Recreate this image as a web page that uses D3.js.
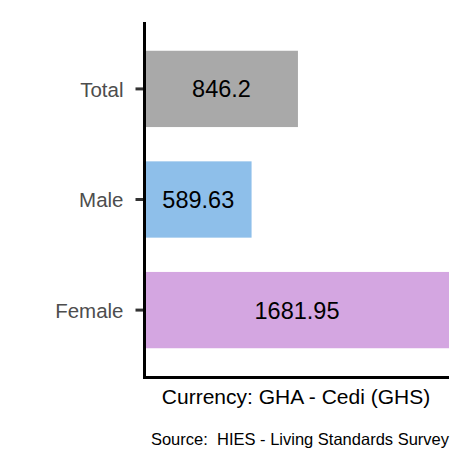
<!DOCTYPE html>
<html>
<head>
<meta charset="utf-8">
<script src="https://cdn.jsdelivr.net/npm/d3@7.9.0/dist/d3.min.js"></script>
<style>
  html, body { margin: 0; padding: 0; background: #fff; }
  svg text { font-family: "Liberation Sans", Arial, sans-serif; white-space: pre; }
</style>
</head>
<body>
<svg id="chart" width="472" height="472"></svg>
<script>
// Data
const groups = ['Total', 'Male', 'Female'];
const values = [846.2, 589.63, 1681.95];
const colors = ['#a9a9a9', '#8ebfea', '#d4a6e1'];
const xTitle = 'Currency: GHA - Cedi (GHS)';
const caption = 'Source:  HIES - Living Standards Survey';

const svg = d3.select('#chart');

// Panel box
const panel = { left: 145, right: 449, top: 22, bottom: 377 };

const x = d3.scaleLinear()
    .domain([0, d3.max(values)])
    .range([panel.left, panel.right]);

const y = d3.scaleBand()
    .domain(groups)
    .range([panel.top, panel.bottom])
    .paddingInner(0.31)
    .paddingOuter(0.26);

const data = groups.map((g, i) => ({ group: g, value: values[i], color: colors[i] }));

// Bars
svg.append('g')
    .selectAll('rect')
    .data(data)
    .join('rect')
    .attr('x', x(0))
    .attr('y', d => y(d.group))
    .attr('width', d => x(d.value) - x(0))
    .attr('height', y.bandwidth())
    .attr('fill', d => d.color);

// Value labels
svg.append('g')
    .selectAll('text')
    .data(data)
    .join('text')
    .attr('x', d => (x(0) + x(d.value)) / 2)
    .attr('y', d => y(d.group) + y.bandwidth() / 2)
    .attr('dy', '0.36em')
    .attr('text-anchor', 'middle')
    .attr('font-size', 23.5)
    .attr('fill', '#000')
    .text(d => d.value);

// Left axis
const yAxis = svg.append('g')
    .attr('transform', `translate(${panel.left - 0.5},0)`)
    .call(d3.axisLeft(y).tickSize(9).tickSizeOuter(0).tickPadding(12));
yAxis.select('.domain').remove();
yAxis.selectAll('.tick line').attr('stroke', '#333').attr('stroke-width', 3);
yAxis.selectAll('.tick text')
    .attr('font-size', 20.5)
    .attr('dy', '0.38em')
    .attr('fill', '#4d4d4d')
    .attr('font-family', '"Liberation Sans", Arial, sans-serif');

// Axis lines (L shape)
svg.append('path')
    .attr('d', `M${panel.left - 0.5},${panel.top}V${panel.bottom + 0.5}H${panel.right}`)
    .attr('fill', 'none')
    .attr('stroke', '#000')
    .attr('stroke-width', 3);

// X title
svg.append('text')
    .attr('x', (panel.left + panel.right) / 2 - 1)
    .attr('y', 404)
    .attr('text-anchor', 'middle')
    .attr('font-size', 21)
    .attr('fill', '#000')
    .text(xTitle);

// Caption
svg.append('text')
    .attr('x', panel.right)
    .attr('y', 445)
    .attr('text-anchor', 'end')
    .attr('font-size', 16.5)
    .attr('fill', '#000')
    .text(caption);
</script>
</body>
</html>
